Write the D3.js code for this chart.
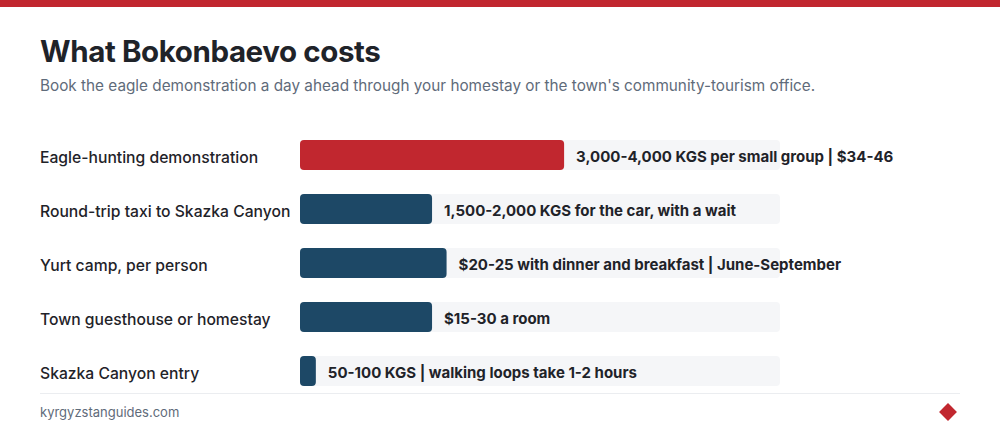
<!DOCTYPE html>
<html>
<head>
<meta charset="utf-8">
<script src="https://cdn.jsdelivr.net/npm/d3@7"></script>
<style>
  html, body { margin: 0; padding: 0; background: #fff; }
  svg { display: block; font-family: Inter, "Noto Sans", sans-serif; }
</style>
</head>
<body>
<svg id="chart" width="1000" height="440"></svg>
<script>
const title = "What Bokonbaevo costs";
const subtitle = "Book the eagle demonstration a day ahead through your homestay or the town's community-tourism office.";
const categories = [
  "Eagle-hunting demonstration",
  "Round-trip taxi to Skazka Canyon",
  "Yurt camp, per person",
  "Town guesthouse or homestay",
  "Skazka Canyon entry"
];
const values = [40, 20, 22.2, 20, 2.4];
const valueLabels = [
  "3,000-4,000 KGS per small group | $34-46",
  "1,500-2,000 KGS for the car, with a wait",
  "$20-25 with dinner and breakfast | June-September",
  "$15-30 a room",
  "50-100 KGS | walking loops take 1-2 hours"
];
const highlight = [true, false, false, false, false];
const xMax = 72.7;
const source = "kyrgyzstanguides.com";

const RED = "#c1272f", BLUE = "#1d4866", TRACK = "#f5f6f8", INK = "#1f2329", MUTED = "#5f6b7a";
const svg = d3.select("#chart");

svg.append("rect").attr("x", 0).attr("y", 0).attr("width", 1000).attr("height", 7).attr("fill", RED);

svg.append("text").attr("x", 40).attr("y", 62)
  .attr("font-size", 29.5).attr("font-weight", 700).attr("fill", INK).attr("letter-spacing", -0.4)
  .text(title);
svg.append("text").attr("x", 40).attr("y", 91)
  .attr("font-size", 15.3).attr("fill", MUTED)
  .text(subtitle);

const x = d3.scaleLinear().domain([0, xMax]).range([300, 780]);
const y = d3.scaleBand().domain(categories)
  .range([140, 140 + 54 * categories.length - 24]).paddingInner(24 / 54).paddingOuter(0);

const rows = svg.append("g").selectAll("g").data(categories).join("g");

rows.append("rect")
  .attr("x", x(0)).attr("y", d => y(d))
  .attr("width", x(xMax) - x(0)).attr("height", y.bandwidth())
  .attr("rx", 4).attr("fill", TRACK);

rows.append("rect")
  .attr("x", x(0)).attr("y", d => y(d))
  .attr("width", (d, i) => x(values[i]) - x(0)).attr("height", y.bandwidth())
  .attr("rx", 4).attr("fill", (d, i) => highlight[i] ? RED : BLUE);

rows.append("text")
  .attr("x", 40).attr("y", d => y(d) + y.bandwidth() / 2)
  .attr("dy", "0.48em")
  .attr("font-size", 15.7).attr("font-weight", 500).attr("fill", INK)
  .text(d => d);

rows.append("text")
  .attr("x", (d, i) => x(values[i]) + 12).attr("y", d => y(d) + y.bandwidth() / 2)
  .attr("dy", "0.45em")
  .attr("font-size", 15).attr("font-weight", 700).attr("fill", INK)
  .text((d, i) => valueLabels[i]);

svg.append("line").attr("x1", 40).attr("x2", 960).attr("y1", 393.5).attr("y2", 393.5)
  .attr("stroke", "#ebedf0").attr("stroke-width", 1);

svg.append("text").attr("x", 40).attr("y", 417)
  .attr("font-size", 13).attr("fill", MUTED).text(source);

svg.append("path")
  .attr("d", d3.symbol(d3.symbolSquare, 160)())
  .attr("transform", "translate(948,412) rotate(45)")
  .attr("fill", RED);
</script>
</body>
</html>
